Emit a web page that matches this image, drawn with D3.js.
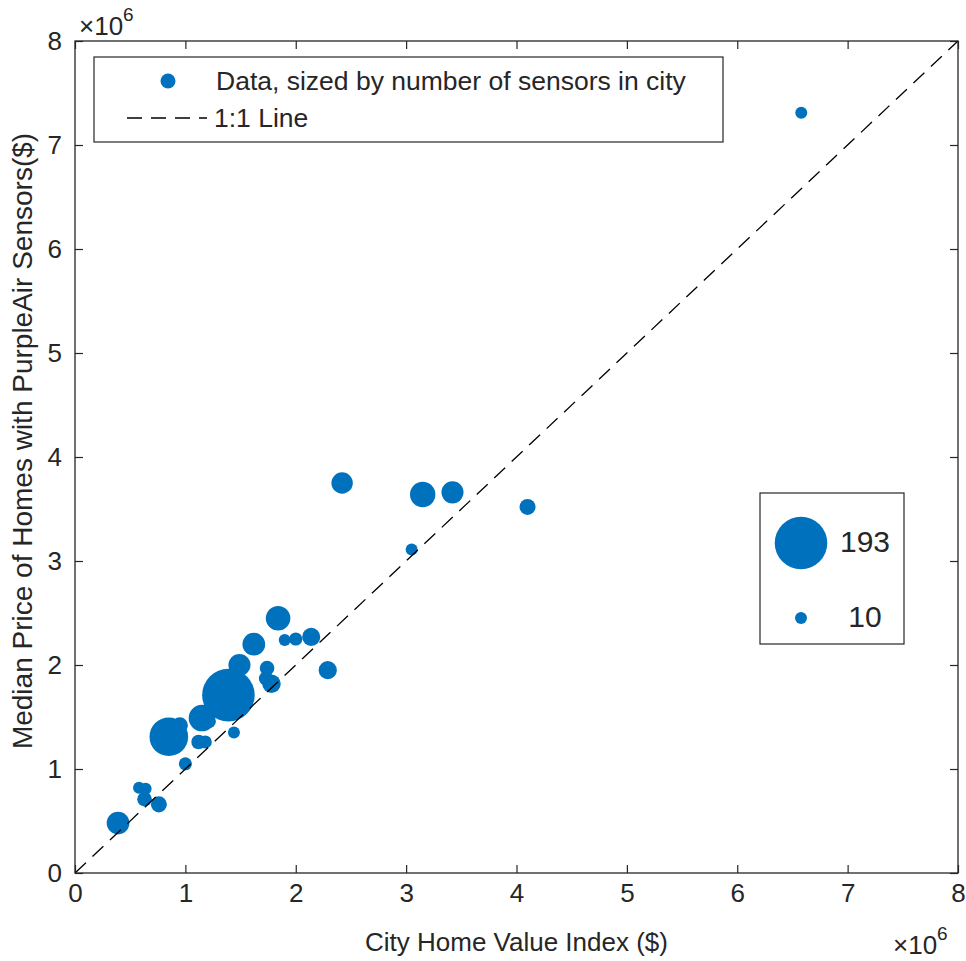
<!DOCTYPE html>
<html>
<head>
<meta charset="utf-8">
<script src="https://cdn.jsdelivr.net/npm/d3@7"></script>
<style>
  body { margin: 0; background: #fff; }
  svg { display: block; }
  text { font-family: "Liberation Sans", Arial, Helvetica, sans-serif; fill: #262626; }
</style>
</head>
<body>
<svg id="chart" width="966" height="961"></svg>
<script>
// City home value index ($) for each city with PurpleAir sensors
const cityHomeValueIndex = [
  6580000, 4100000, 3050000, 3150000, 3420000, 2420000, 1840000, 1900000,
  2000000, 2140000, 1620000, 1490000, 1740000, 1730000, 1780000, 2290000,
  1390000, 1150000, 1210000, 950000, 850000, 1440000, 1120000, 1180000,
  1000000, 580000, 640000, 630000, 760000, 390000
];
// Median price of homes that host a PurpleAir sensor ($)
const medianSensorHomePrice = [
  7310000, 3520000, 3110000, 3640000, 3660000, 3750000, 2450000, 2240000,
  2250000, 2270000, 2200000, 2000000, 1970000, 1870000, 1820000, 1950000,
  1710000, 1490000, 1460000, 1420000, 1310000, 1350000, 1260000, 1260000,
  1050000, 820000, 810000, 710000, 660000, 480000
];
// Number of sensors in each city (marker area)
const sensorCount = [
  10, 18, 10, 45, 34, 32, 42, 10,
  12, 23, 36, 34, 15, 14, 24, 23,
  193, 49, 15, 18, 104, 10, 15, 12,
  12, 10, 10, 15, 18, 36
];
const axisTicks = [0, 1000000, 2000000, 3000000, 4000000, 5000000, 6000000, 7000000, 8000000];
const sizeLegendCounts = [193, 10];
const legendLabels = ["Data, sized by number of sensors in city", "1:1 Line"];
const xLabel = "City Home Value Index ($)";
const yLabel = "Median Price of Homes with PurpleAir Sensors($)";

const blue = "#0072BD";
const ink = "#262626";
const dash = "15,9";
const svg = d3.select("#chart");

const plot = { left: 75, right: 958, top: 41, bottom: 873 };
const x = d3.scaleLinear().domain([0, 8000000]).range([plot.left, plot.right]);
const y = d3.scaleLinear().domain([0, 8000000]).range([plot.bottom, plot.top]);
const r = d3.scaleSqrt().domain([0, 193]).range([0, 26.3]);
const fmt = v => String(v / 1e6);

// Axes with inward ticks on all four sides
const tickLen = 8;
const gx = svg.append("g").attr("transform", `translate(0,${plot.bottom})`)
  .call(d3.axisBottom(x).tickValues(axisTicks).tickFormat(fmt)
    .tickSizeInner(-tickLen).tickSizeOuter(0).tickPadding(11));
const gxt = svg.append("g").attr("transform", `translate(0,${plot.top})`)
  .call(d3.axisTop(x).tickValues(axisTicks).tickFormat("")
    .tickSizeInner(-tickLen).tickSizeOuter(0));
const gy = svg.append("g").attr("transform", `translate(${plot.left},0)`)
  .call(d3.axisLeft(y).tickValues(axisTicks).tickFormat(fmt)
    .tickSizeInner(-tickLen).tickSizeOuter(0).tickPadding(13));
const gyr = svg.append("g").attr("transform", `translate(${plot.right},0)`)
  .call(d3.axisRight(y).tickValues(axisTicks).tickFormat("")
    .tickSizeInner(-tickLen).tickSizeOuter(0));
[gx, gxt, gy, gyr].forEach(g => {
  g.select(".domain").remove();
  g.selectAll(".tick line").attr("stroke", ink).attr("stroke-width", 1.2);
  g.selectAll(".tick text").attr("font-size", 26)
    .attr("font-family", "Liberation Sans, Arial, sans-serif").attr("fill", ink);
});

// Scatter markers
svg.append("g").selectAll("circle")
  .data(d3.range(sensorCount.length))
  .join("circle")
  .attr("cx", i => x(cityHomeValueIndex[i]))
  .attr("cy", i => y(medianSensorHomePrice[i]))
  .attr("r", i => r(sensorCount[i]))
  .attr("fill", blue);

// 1:1 reference line
svg.append("line")
  .attr("x1", x(0)).attr("y1", y(0))
  .attr("x2", x(8000000)).attr("y2", y(8000000))
  .attr("stroke", "#000").attr("stroke-width", 1.3)
  .attr("stroke-dasharray", dash);

// Plot frame
svg.append("rect")
  .attr("x", plot.left).attr("y", plot.top)
  .attr("width", plot.right - plot.left).attr("height", plot.bottom - plot.top)
  .attr("fill", "none").attr("stroke", ink).attr("stroke-width", 1.3);

// Exponent labels
function exponent(xPos, yBase) {
  const t = svg.append("text").attr("x", xPos).attr("y", yBase).attr("font-size", 26);
  t.append("tspan").text("\u00d710");
  t.append("tspan").attr("dy", -14).attr("font-size", 19).text("6");
}
exponent(79, 35);
exponent(893, 954);

// Axis titles
svg.append("text")
  .attr("x", (plot.left + plot.right) / 2).attr("y", 951)
  .attr("text-anchor", "middle").attr("font-size", 26)
  .text(xLabel);
svg.append("text")
  .attr("transform", `translate(32,441) rotate(-90)`)
  .attr("text-anchor", "middle").attr("font-size", 28)
  .text(yLabel);

// Series legend
const lg = svg.append("g");
lg.append("rect").attr("x", 94).attr("y", 57).attr("width", 629).attr("height", 85)
  .attr("fill", "#fff").attr("stroke", ink).attr("stroke-width", 1.2);
lg.append("circle").attr("cx", 168).attr("cy", 81).attr("r", 7.5).attr("fill", blue);
lg.append("text").attr("x", 216).attr("y", 81).attr("dy", "0.35em")
  .attr("font-size", 26.5).text(legendLabels[0]);
lg.append("line").attr("x1", 127).attr("x2", 207).attr("y1", 118).attr("y2", 118)
  .attr("stroke", "#000").attr("stroke-width", 1.3).attr("stroke-dasharray", dash);
lg.append("text").attr("x", 214).attr("y", 118).attr("dy", "0.35em")
  .attr("font-size", 26.5).text(legendLabels[1]);

// Marker size legend
const sg = svg.append("g");
sg.append("rect").attr("x", 760).attr("y", 493).attr("width", 144).attr("height", 151)
  .attr("fill", "#fff").attr("stroke", ink).attr("stroke-width", 1.2);
const sizeRows = [543, 618];
sizeLegendCounts.forEach((c, k) => {
  sg.append("circle").attr("cx", 801).attr("cy", sizeRows[k]).attr("r", r(c)).attr("fill", blue);
  sg.append("text").attr("x", 865).attr("y", sizeRows[k] - 2).attr("dy", "0.35em")
    .attr("text-anchor", "middle").attr("font-size", 30).attr("fill", "#000").text(c);
});
</script>
</body>
</html>
